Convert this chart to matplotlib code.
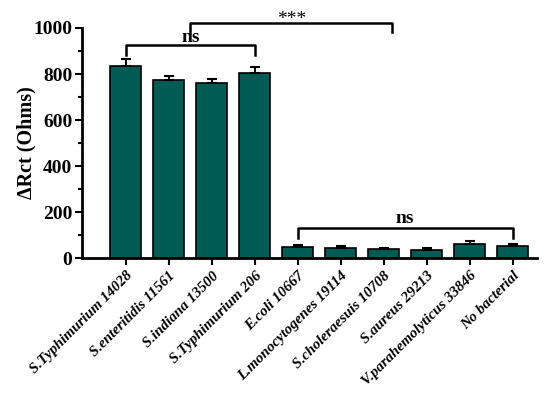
import numpy as np
from matplotlib import pyplot as plt
from matplotlib.ticker import MultipleLocator

strains = ['S.Typhimurium 14028', 'S.enteritidis 11561', 'S.indiana 13500',
           'S.Typhimurium 206', 'E.coli 10667', 'L.monocytogenes 19114',
           'S.choleraesuis 10708', 'S.aureus 29213', 'V.parahemolyticus 33846',
           'No bacterial']
drct = [836, 772, 760, 806, 47, 44, 38, 35, 62, 53]
err = [30, 20, 18, 25, 9, 8, 7, 9, 11, 9]

plt.rcParams['font.family'] = ['Liberation Serif', 'DejaVu Serif']

fig = plt.figure(figsize=(5.5, 3.97), dpi=100)
ax = fig.add_axes([0.149, 0.35, 0.827, 0.5795])

x = np.arange(len(strains))
ax.bar(x, drct, width=0.72, color='#005b55', edgecolor='black', linewidth=1.2,
       yerr=[np.zeros(len(err)), err], capsize=3.5,
       error_kw=dict(ecolor='black', elinewidth=1.5, capthick=1.5))

ax.set_xlim(-1.02, 9.56)
ax.set_ylim(0, 1000)
ax.set_xticks(x)
ax.set_xticklabels(strains, rotation=45, ha='right', rotation_mode='anchor',
                   fontsize=10.8, fontweight='bold', fontstyle='italic')
ax.yaxis.set_major_locator(MultipleLocator(200))
ax.yaxis.set_minor_locator(MultipleLocator(100))
for lab in ax.get_yticklabels():
    lab.set_fontweight('bold')
ax.tick_params(axis='y', labelsize=14, width=1.5, length=5, pad=2)
ax.tick_params(axis='y', which='minor', width=1.5, length=3)
ax.tick_params(axis='x', width=1.5, length=5, pad=3)
ax.set_ylabel('ΔRct (Ohms)', fontsize=14.5, fontweight='bold', labelpad=-2)

for s in ['top', 'right']:
    ax.spines[s].set_visible(False)
for s in ['left', 'bottom']:
    ax.spines[s].set_linewidth(2)

# significance brackets
def bracket(x1, x2, y, h1, h2, text, ty, fs, fw='bold'):
    ax.plot([x1, x1, x2, x2], [y - h1, y, y, y - h2], color='black',
            lw=1.8, clip_on=False)
    ax.text((x1 + x2) / 2, ty, text, ha='center', va='baseline',
            fontsize=fs, fontweight=fw, clip_on=False)

bracket(0, 3, 926, 43, 43, 'ns', 937, 14)
bracket(1.5, 6.2, 1022, 44, 40, '***', 1018, 14, 'normal')
bracket(4, 9, 130, 43, 43, 'ns', 152, 14)

fig.savefig('out.png', dpi=100)
